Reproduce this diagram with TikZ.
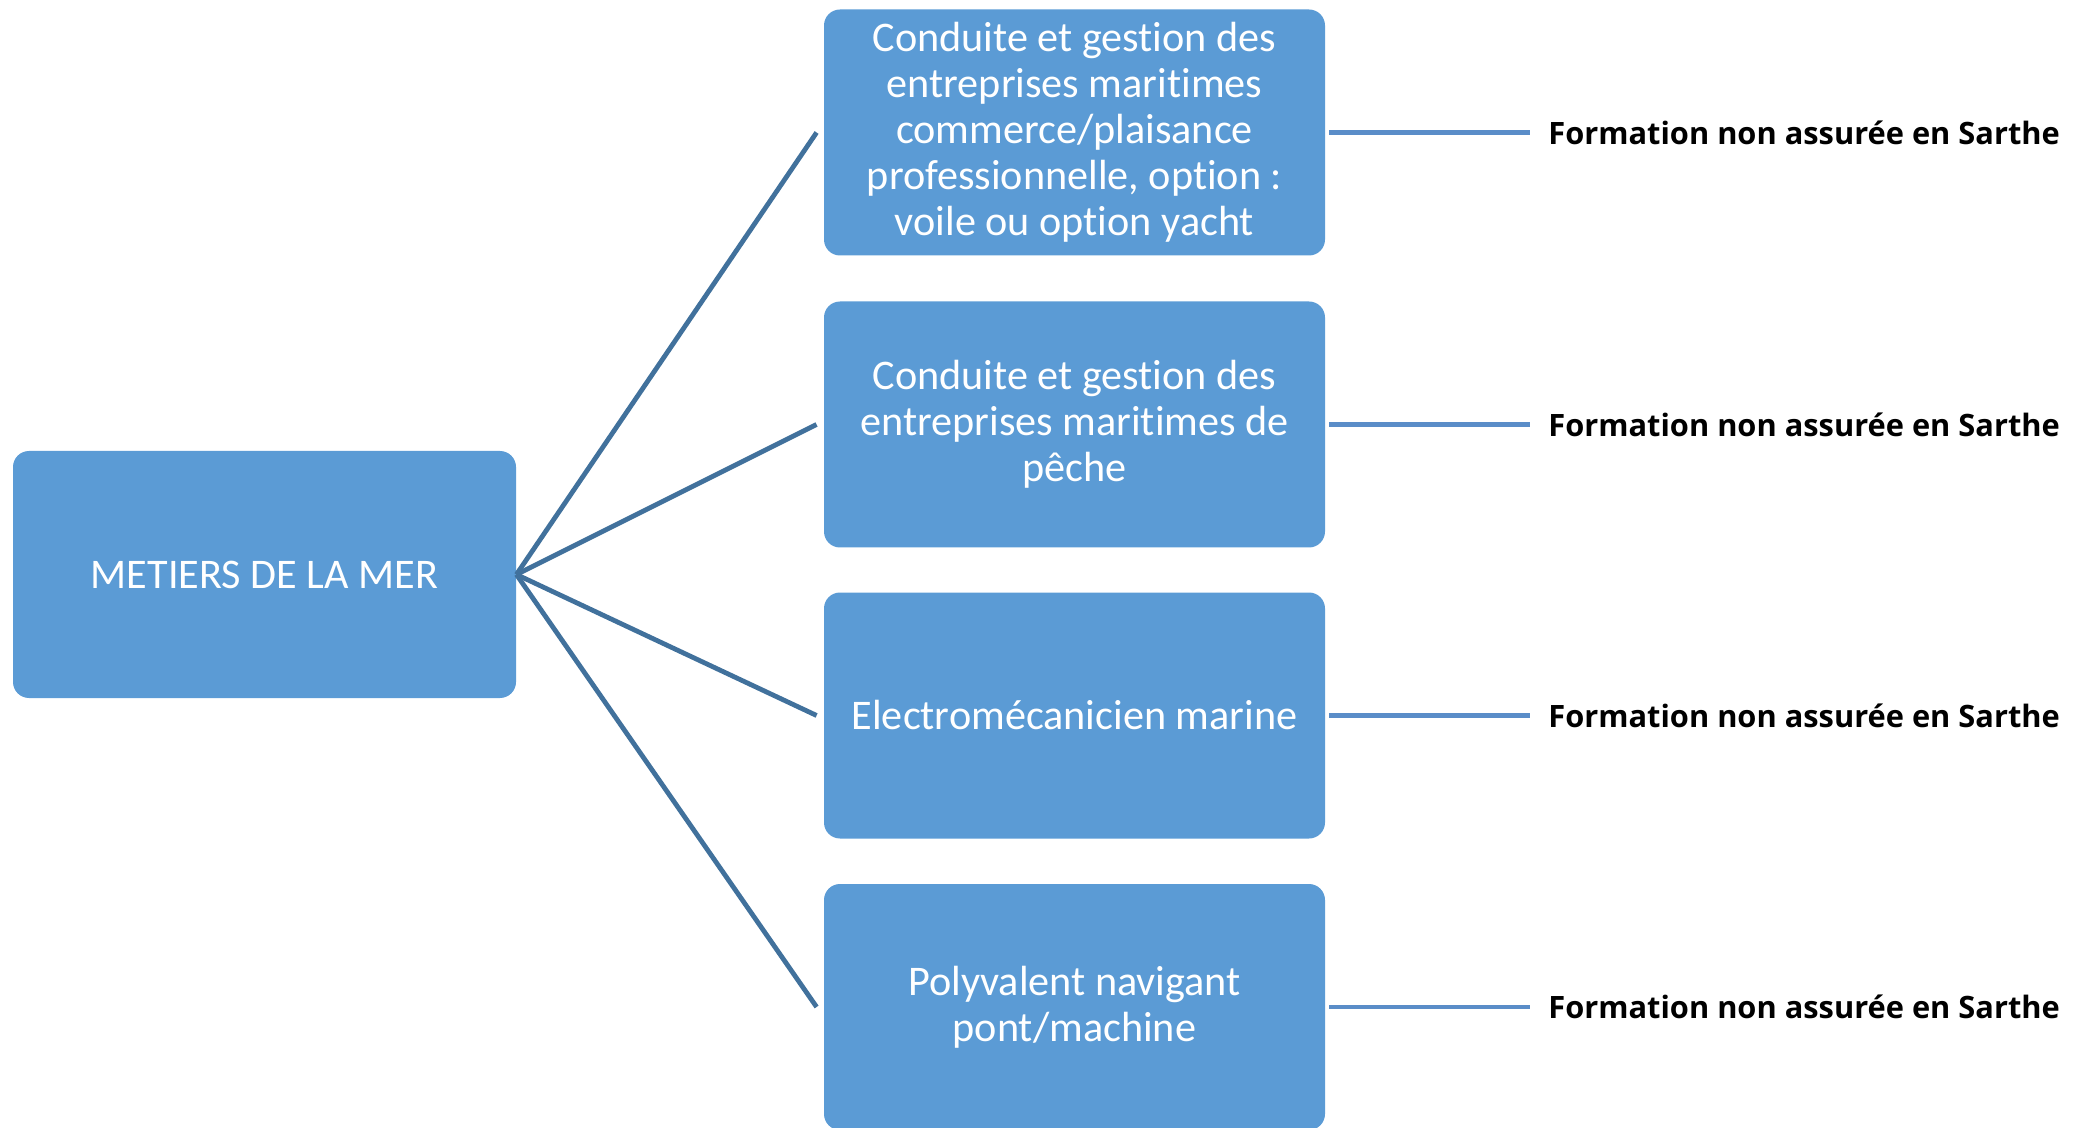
\documentclass[tikz,border=0pt]{standalone}
\usepackage{fontspec}
\setmainfont{Carlito}[RawFeature={-liga;-clig;-dlig}]
\newfontfamily\osb{Open Sans}
\definecolor{boxfill}{HTML}{5B9BD5}
\definecolor{linkdark}{HTML}{41719C}
\definecolor{linklight}{HTML}{5A8DC8}
\begin{document}
\begin{tikzpicture}[x=0.5pt,y=-0.5pt,
  box/.style={fill=boxfill,draw=none,rounded corners=8pt,inner sep=0pt,
    minimum width=250.5pt,minimum height=123pt,text=white,align=center,
    font=\fontsize{21.1pt}{23pt}\selectfont},
  lab/.style={anchor=west,inner sep=0pt,font=\osb\bfseries\fontsize{15.4pt}{18pt}\selectfont},
  fan/.style={draw=linkdark,line width=2.4pt},
  tail/.style={draw=linklight,line width=2.3pt}]
\useasboundingbox (0,0) rectangle (2073,1128);
\node[box,minimum width=251.5pt,minimum height=123.5pt] (main) at (264.5,574.5) {METIERS DE LA MER};
\node[box] (b1) at (1074.5,132.5) {Conduite et gestion des\\entreprises maritimes\\commerce/plaisance\\professionnelle, option :\\voile ou option yacht};
\node[box] (b2) at (1074.5,424.5) {Conduite et gestion des\\entreprises maritimes de\\pêche};
\node[box] (b3) at (1074.5,715.5) {Electromécanicien marine};
\node[box] (b4) at (1074.5,1007) {Polyvalent navigant\\pont/machine};
\node[lab] (l1) at (1548,132.5) {Formation non assurée en Sarthe};
\node[lab] (l2) at (1548,424.5) {Formation non assurée en Sarthe};
\node[lab] (l3) at (1548,715.5) {Formation non assurée en Sarthe};
\node[lab] (l4) at (1548,1007) {Formation non assurée en Sarthe};
\foreach \i in {1,2,3,4}{
  \draw[fan] (main.east) -- ([xshift=-3.5pt]b\i.west);
  \draw[tail] ([xshift=2pt]b\i.east) -- ([xshift=-9pt]l\i.west);
}
\end{tikzpicture}
\end{document}
